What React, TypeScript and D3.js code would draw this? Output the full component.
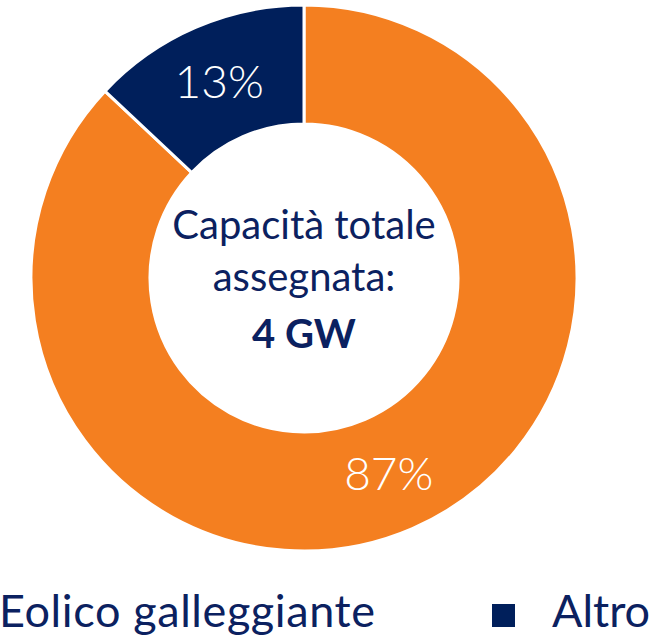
import React from 'react'
import * as d3 from 'd3'

// valori (quota di capacità assegnata)
const categories = ['Eolico galleggiante', 'Altro']
const shares = [87, 13]
const colors = ['#F47F20', '#001F5B']
const centerLines = ['Capacità totale', 'assegnata:']
const centerValue = '4 GW'

const W = 653
const H = 642
const FONT = "'Source Sans Pro', Lato, 'Noto Sans', sans-serif"
const NAVY = '#0B2160'

export default function App () {
  const cx = 304
  const cy = 278
  const outerR = 273
  const innerR = 154

  const pie = d3.pie<number>().sort(null).value(d => d)
  const arcs = pie(shares)
  const arc = d3.arc<d3.PieArcDatum<number>>()
    .innerRadius(innerR)
    .outerRadius(outerR)
  const total = d3.sum(shares)

  // legenda in basso, il primo elemento esce a sinistra come nell'originale
  const legendX = [-61, 492]
  const legendY = 604
  const box = 23

  return (
    <svg width={W} height={H} style={{ position: 'absolute', left: 0, top: 0, display: 'block' }}
      fontFamily={FONT}>
      <rect width={W} height={H} fill='#fff' />
      <g transform={`translate(${cx},${cy})`}>
        {arcs.map((a, i) => (
          <path key={categories[i]} d={arc(a) || ''} fill={colors[i]} stroke='#fff' strokeWidth={3} />
        ))}
        {arcs.map((a, i) => {
          const [x, y] = arc.centroid(a)
          return (
            <text key={'l' + i} x={x} y={y} dy='0.35em' textAnchor='middle' fill='#fff'
              fontSize={46} fontWeight={300}>
              {Math.round(a.data / total * 100)}%
            </text>
          )
        })}
        {centerLines.map((t, i) => (
          <text key={t} x={0} y={-39 + i * 52} textAnchor='middle' fill={NAVY} fontSize={40}>{t}</text>
        ))}
        <text x={0} y={70} textAnchor='middle' fill={NAVY} fontSize={40} fontWeight={700}>{centerValue}</text>
      </g>
      {categories.map((c, i) => (
        <g key={c} transform={`translate(${legendX[i]},${legendY})`}>
          <rect width={box} height={box} fill={colors[i]} />
          <text x={box + 37} y={box} fill={NAVY} fontSize={45} letterSpacing={i === 0 ? 0.6 : 0}>{c}</text>
        </g>
      ))}
    </svg>
  )
}
